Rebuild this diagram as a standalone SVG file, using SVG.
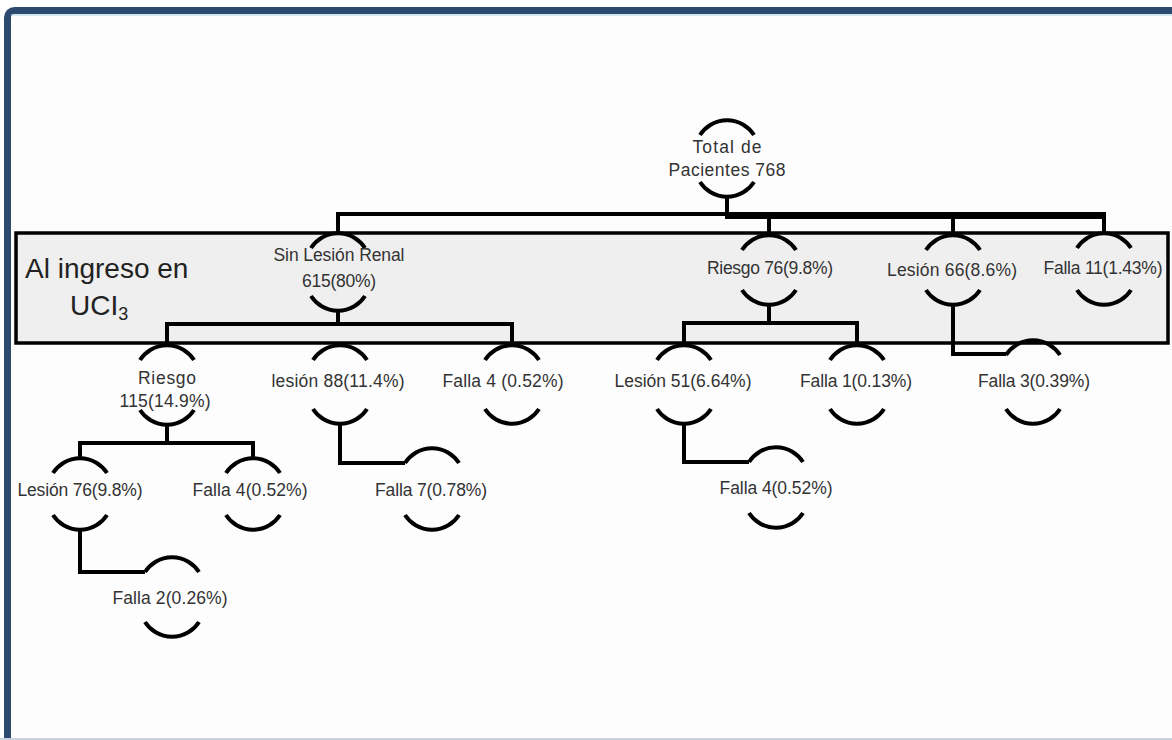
<svg xmlns="http://www.w3.org/2000/svg" width="1172" height="740" viewBox="0 0 1172 740">
<style>
.arc{fill:none;stroke:#000;stroke-width:4;stroke-linecap:butt}
.con{fill:none;stroke:#000;stroke-width:4;stroke-linejoin:miter}
.lbl{font-family:"Liberation Sans",Arial,sans-serif;font-size:17.5px;fill:#333;text-anchor:middle}
.big{font-family:"Liberation Sans",Arial,sans-serif;font-size:28px;fill:#222}
</style>
<rect x="0" y="0" width="1172" height="740" fill="#ffffff"/>
<rect x="7.5" y="10.5" width="1200" height="760" rx="7" fill="#fdfdfe" stroke="#2b4a6e" stroke-width="7"/>
<line x1="11" y1="15" x2="1172" y2="15" stroke="#a9d6e0" stroke-width="1"/>
<line x1="0" y1="739" x2="1172" y2="739" stroke="#c9d2da" stroke-width="2"/>
<g id="band">
<rect x="16" y="233" width="1152" height="110" fill="#efefef" stroke="#000" stroke-width="3.5"/>
<text class="big" x="25" y="278">Al ingreso en</text>
<text class="big" x="70" y="315">UCI<tspan font-size="18" dy="5">3</tspan></text>
</g>
<g id="connectors">
<path class="con" d="M727,197 V217 H1104"/>
<path class="con" d="M338,233 V214 H1104 V233"/>
<path class="con" d="M769,217 V235"/>
<path class="con" d="M953,217 V235"/>
<path class="con" d="M338,311 V324"/>
<path class="con" d="M167,345 V324 H512 V345"/>
<path class="con" d="M769,305 V323"/>
<path class="con" d="M684,345 V323 H857 V345"/>
<path class="con" d="M953,305 V354 H1006"/>
<path class="con" d="M167,425 V443"/>
<path class="con" d="M80,458 V443 H253 V458"/>
<path class="con" d="M340,424 V463 H405"/>
<path class="con" d="M684,424 V462 H749"/>
<path class="con" d="M80,530 V572 H145"/>
</g>
<g id="n-total">
<path class="arc" d="M700,135 A32 32 0 0 1 754,135 M700,182 A32 32 0 0 0 754,182"/>
<text class="lbl" x="727" y="153" textLength="69">Total de</text>
<text class="lbl" x="727" y="176" textLength="117">Pacientes 768</text>
</g>
<g id="n-sinlesion">
<path class="arc" d="M311,248 A32 32 0 0 1 365,248 M311,296 A32 32 0 0 0 365,296"/>
<text class="lbl" x="339" y="261" textLength="131">Sin Lesión Renal</text>
<text class="lbl" x="339" y="287" textLength="74">615(80%)</text>
</g>
<g id="n-riesgo76">
<path class="arc" d="M742,250 A32 32 0 0 1 796,250 M742,290 A32 32 0 0 0 796,290"/>
<text class="lbl" x="770" y="274" textLength="126">Riesgo 76(9.8%)</text>
</g>
<g id="n-lesion66">
<path class="arc" d="M926,250 A32 32 0 0 1 980,250 M926,290 A32 32 0 0 0 980,290"/>
<text class="lbl" x="952" y="276" textLength="130">Lesión 66(8.6%)</text>
</g>
<g id="n-falla11">
<path class="arc" d="M1077,248 A32 32 0 0 1 1131,248 M1077,290 A32 32 0 0 0 1131,290"/>
<text class="lbl" x="1103" y="274" textLength="119">Falla 11(1.43%)</text>
</g>
<g id="n-riesgo115">
<path class="arc" d="M140,360 A32 32 0 0 1 194,360 M140,410 A32 32 0 0 0 194,410"/>
<text class="lbl" x="167" y="384" textLength="58">Riesgo</text>
<text class="lbl" x="165" y="407" textLength="91">115(14.9%)</text>
</g>
<g id="n-lesion88">
<path class="arc" d="M313,360 A32 32 0 0 1 367,360 M313,409 A32 32 0 0 0 367,409"/>
<text class="lbl" x="338" y="387" textLength="133">lesión 88(11.4%)</text>
</g>
<g id="n-falla4a">
<path class="arc" d="M485,360 A32 32 0 0 1 539,360 M485,409 A32 32 0 0 0 539,409"/>
<text class="lbl" x="503" y="387" textLength="121">Falla 4 (0.52%)</text>
</g>
<g id="n-lesion51">
<path class="arc" d="M657,360 A32 32 0 0 1 711,360 M657,409 A32 32 0 0 0 711,409"/>
<text class="lbl" x="683" y="387" textLength="137">Lesión 51(6.64%)</text>
</g>
<g id="n-falla1">
<path class="arc" d="M830,360 A32 32 0 0 1 884,360 M830,409 A32 32 0 0 0 884,409"/>
<text class="lbl" x="856" y="387" textLength="112">Falla 1(0.13%)</text>
</g>
<g id="n-falla3">
<path class="arc" d="M1006,355 A32 32 0 0 1 1060,355 M1006,409 A32 32 0 0 0 1060,409"/>
<text class="lbl" x="1034" y="387" textLength="112">Falla 3(0.39%)</text>
</g>
<g id="n-lesion76">
<path class="arc" d="M53,473 A32 32 0 0 1 107,473 M53,515 A32 32 0 0 0 107,515"/>
<text class="lbl" x="80" y="496" textLength="125">Lesión 76(9.8%)</text>
</g>
<g id="n-falla4b">
<path class="arc" d="M226,473 A32 32 0 0 1 280,473 M226,515 A32 32 0 0 0 280,515"/>
<text class="lbl" x="250" y="496" textLength="115">Falla 4(0.52%)</text>
</g>
<g id="n-falla7">
<path class="arc" d="M405,463 A32 32 0 0 1 459,463 M405,515 A32 32 0 0 0 459,515"/>
<text class="lbl" x="431" y="496" textLength="112">Falla 7(0.78%)</text>
</g>
<g id="n-falla4c">
<path class="arc" d="M749,462 A32 32 0 0 1 803,462 M749,513 A32 32 0 0 0 803,513"/>
<text class="lbl" x="776" y="494" textLength="113">Falla 4(0.52%)</text>
</g>
<g id="n-falla2">
<path class="arc" d="M145,572 A32 32 0 0 1 199,572 M145,622 A32 32 0 0 0 199,622"/>
<text class="lbl" x="170" y="604" textLength="115">Falla 2(0.26%)</text>
</g>
</svg>
